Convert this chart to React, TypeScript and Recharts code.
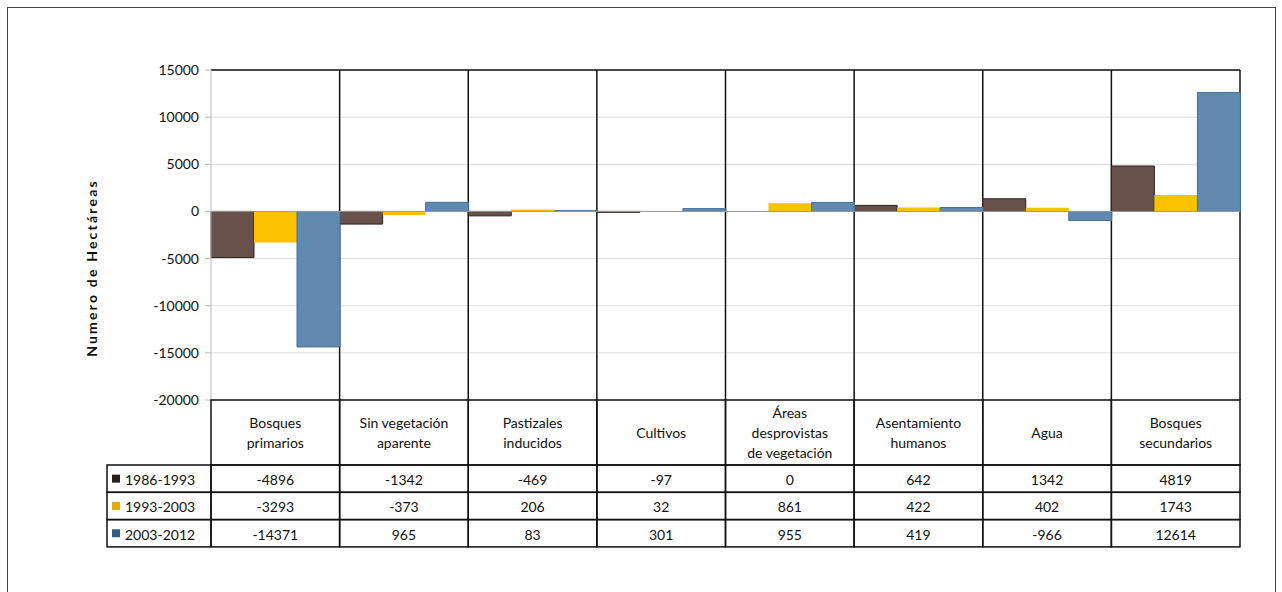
import React from 'react';
import { BarChart, Bar, XAxis, YAxis, CartesianGrid, ReferenceLine } from 'recharts';

const categories = [
  'Bosques primarios',
  'Sin vegetación aparente',
  'Pastizales inducidos',
  'Cultivos',
  'Áreas desprovistas de vegetación',
  'Asentamiento humanos',
  'Agua',
  'Bosques secundarios',
];
const categoryLines: string[][] = [
  ['Bosques', 'primarios'],
  ['Sin vegetación', 'aparente'],
  ['Pastizales', 'inducidos'],
  ['Cultivos'],
  ['Áreas', 'desprovistas', 'de vegetación'],
  ['Asentamiento', 'humanos'],
  ['Agua'],
  ['Bosques', 'secundarios'],
];
const seriesNames = ['1986-1993', '1993-2003', '2003-2012'];
const s1986 = [-4896, -1342, -469, -97, 0, 642, 1342, 4819];
const s1993 = [-3293, -373, 206, 32, 861, 422, 402, 1743];
const s2003 = [-14371, 965, 83, 301, 955, 419, -966, 12614];
const yTicks = [-20000, -15000, -10000, -5000, 0, 5000, 10000, 15000];

const seriesValues = [s1986, s1993, s2003];
const fills = ['#67514a', '#fcc200', '#6089b0'];
const strokes = ['#2e211c', '#fcc200', '#44709a'];
const keyColors = ['#2a1d18', '#e3a900', '#2f5b85'];

const data = categories.map((c, i) => ({
  name: c,
  s0: s1986[i],
  s1: s1993[i],
  s2: s2003[i],
}));

const W = 1282;
const H = 592;
const PLOT_LEFT = 211;
const PLOT_RIGHT = 1240;
const PLOT_TOP = 70;
const PLOT_BOTTOM = 400;
const YAXIS_W = 80;
const XAXIS_H = 147;
const CW = (PLOT_RIGHT - PLOT_LEFT) / categories.length;
const HEADER_H = 65;
const ROW_H = 27.3;
const LEG_W = 104;
const FONT = 'Lato, "Open Sans", sans-serif';

const TableTick = (props: any) => {
  const { x, y, index } = props;
  const left = x - CW / 2;
  const lines = categoryLines[index] || [];
  const headerMid = y + HEADER_H / 2 + 0;
  const lh = 20;
  const startY = headerMid - ((lines.length - 1) * lh) / 2;
  return (
    <g>
      <rect x={left} y={y} width={CW} height={HEADER_H} fill="none" stroke="#111" strokeWidth={1.5} />
      {lines.map((l, k) => (
        <text key={k} x={x} y={startY + k * lh} textAnchor="middle" dominantBaseline="central" fontSize={14} fill="#111" fontFamily={FONT}>
          {l}
        </text>
      ))}
      {seriesValues.map((vals, r) => (
        <g key={r}>
          <rect x={left} y={y + HEADER_H + r * ROW_H} width={CW} height={ROW_H} fill="none" stroke="#111" strokeWidth={1.5} />
          <text x={x} y={y + HEADER_H + r * ROW_H + ROW_H / 2 + 1} textAnchor="middle" dominantBaseline="central" fontSize={14} fill="#111" fontFamily={FONT}>
            {vals[index]}
          </text>
        </g>
      ))}
      {index === 0 &&
        seriesNames.map((n, r) => (
          <g key={'l' + r}>
            <rect x={left - LEG_W} y={y + HEADER_H + r * ROW_H} width={LEG_W} height={ROW_H} fill="none" stroke="#111" strokeWidth={1.5} />
            <rect x={left - LEG_W + 5} y={y + HEADER_H + r * ROW_H + ROW_H / 2 - 4} width={8} height={8} fill={keyColors[r]} />
            <text x={left - LEG_W + 18} y={y + HEADER_H + r * ROW_H + ROW_H / 2 + 1} dominantBaseline="central" fontSize={14} fill="#111" fontFamily={FONT}>
              {n}
            </text>
          </g>
        ))}
    </g>
  );
};

const YTitle = () => (
  <text
    x={91}
    y={268}
    transform="rotate(-90, 91, 268)"
    textAnchor="middle"
    dominantBaseline="central"
    fontSize={14}
    fontWeight="bold"
    letterSpacing={2.2}
    fill="#111"
    fontFamily={FONT}
  >
    Numero de Hectáreas
  </text>
);

export default function App() {
  return (
    <div style={{ position: 'absolute', left: 0, top: 0, width: W, height: H, background: '#fff' }}>
      <div style={{ position: 'absolute', left: 7, top: 7, width: 1269, height: 590, border: '1.5px solid #444', boxSizing: 'border-box' }} />
      <div style={{ position: 'absolute', left: 0, top: 0 }}>
        <BarChart
          width={W}
          height={H}
          data={data}
          margin={{ top: PLOT_TOP, left: PLOT_LEFT - YAXIS_W, right: W - PLOT_RIGHT, bottom: H - PLOT_BOTTOM - XAXIS_H }}
          barCategoryGap={0}
          barGap={0}
        >
          <CartesianGrid vertical={false} stroke="#dedede" strokeWidth={1} />
          <CartesianGrid
            horizontal={false}
            stroke="#111"
            strokeWidth={1.5}
            verticalCoordinatesGenerator={({ offset }: any) =>
              categories.map((_, i) => offset.left + ((i + 1) * offset.width) / categories.length)
            }
          />
          <YAxis
            width={YAXIS_W}
            domain={[-20000, 15000]}
            ticks={yTicks}
            interval={0}
            tick={{ fontSize: 14, fill: '#111', fontFamily: FONT }}
            tickSize={6}
            tickMargin={6}
            tickLine={{ stroke: '#bbb' }}
            axisLine={{ stroke: '#bbb' }}
            label={<YTitle />}
          />
          <XAxis
            dataKey="name"
            height={XAXIS_H}
            interval={0}
            axisLine={false}
            tickLine={false}
            tickSize={0}
            tickMargin={0}
            tick={<TableTick />}
          />
          <ReferenceLine y={15000} stroke="#111" strokeWidth={1.5} />
          <Bar dataKey="s0" name={seriesNames[0]} fill={fills[0]} stroke={strokes[0]} strokeWidth={1} isAnimationActive={false} />
          <Bar dataKey="s1" name={seriesNames[1]} fill={fills[1]} stroke={strokes[1]} strokeWidth={0} isAnimationActive={false} />
          <Bar dataKey="s2" name={seriesNames[2]} fill={fills[2]} stroke={strokes[2]} strokeWidth={1} isAnimationActive={false} />
          <ReferenceLine y={0} stroke="#999" strokeWidth={1} />
        </BarChart>
      </div>
    </div>
  );
}
